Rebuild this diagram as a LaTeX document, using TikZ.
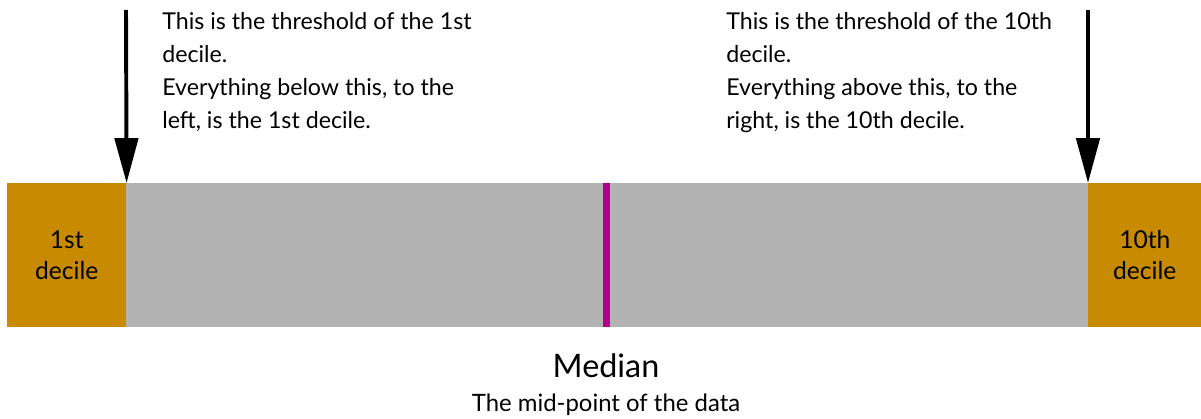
\documentclass[tikz,border=0pt]{standalone}
\usepackage{fontspec}
\setmainfont{Lato}
\usetikzlibrary{arrows.meta,positioning}
\definecolor{decileorange}{RGB}{200,138,0}
\definecolor{bargray}{RGB}{179,179,179}
\definecolor{medianpink}{RGB}{176,0,140}

\begin{document}
\begin{tikzpicture}[x=0.025cm, y=-0.025cm,
    decilebox/.style={fill=decileorange, inner sep=0pt, minimum height=3.6cm, align=center,
      font=\fontsize{17.5}{22}\selectfont},
    note/.style={anchor=north west, inner sep=0pt, align=left,
      font=\fontsize{16.5}{23.4}\selectfont},
    threshold/.style={line width=2.8pt, -{Triangle[length=1.12cm, width=0.58cm]}}]
    \useasboundingbox (0,0) rectangle (1201,419);
    % the bar
    \node[fill=bargray, inner sep=0pt, minimum height=3.6cm, minimum width=24.15cm,
      anchor=north west] (middle) at (124,183) {};
    \node[decilebox, anchor=north west, minimum width=2.975cm] (first) at (7,183) {1st\\decile};
    \node[decilebox, anchor=north west, minimum width=2.825cm] (tenth) at (1088,183) {10th\\decile};
    \draw[medianpink, line width=4.3pt] (606.5,183) -- (606.5,327);
    % thresholds
    \coordinate (firsttop) at (126,10);
    \coordinate (tenthtop) at (1088,10);
    \draw[threshold] (firsttop) -- (first.north east);
    \draw[threshold] (tenthtop) -- (tenth.north west);
    \node[note] (firstnote) at (162,12) {This is the threshold of the 1st\\decile.\\Everything below this, to the\\left, is the 1st decile.};
    \node[note] (tenthnote) at (726,12) {This is the threshold of the 10th\\decile.\\Everything above this, to the\\right, is the 10th decile.};
    % median
    \node[font=\fontsize{23}{26}\selectfont, inner sep=0pt] (median) at (606,366) {Median};
    \node[font=\fontsize{17}{20}\selectfont, inner sep=0pt, below=11pt of median] (medianinfo) {The mid-point of the data};
  \end{tikzpicture}
\end{document}
